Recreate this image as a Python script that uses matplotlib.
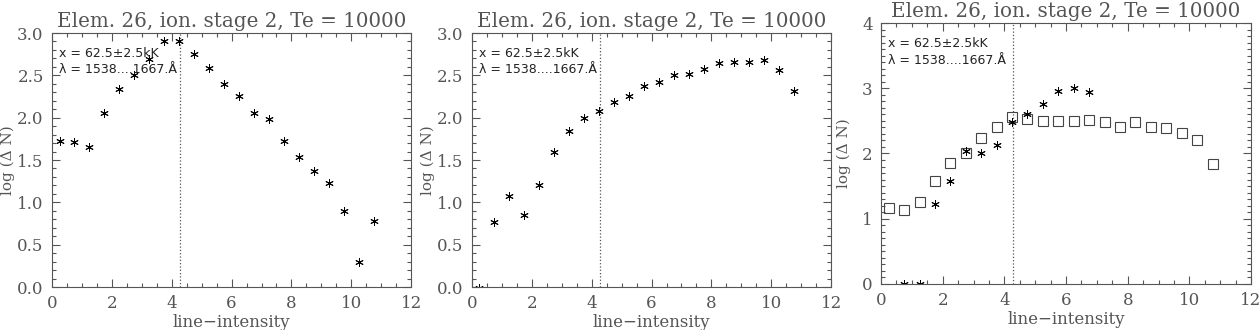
import numpy as np
import matplotlib.pyplot as plt
from matplotlib.ticker import MultipleLocator

# line-intensity bins (bin centres)
x_bins = [0.25, 0.75, 1.25, 1.75, 2.25, 2.75, 3.25, 3.75, 4.25, 4.75, 5.25,
          5.75, 6.25, 6.75, 7.25, 7.75, 8.25, 8.75, 9.25, 9.75, 10.25, 10.75]

# panel 1: log(dN), asterisks
left_vals = [1.72, 1.71, 1.65, 2.06, 2.34, 2.50, 2.69, 2.90, 2.90, 2.75, 2.59,
             2.40, 2.26, 2.05, 1.98, 1.73, 1.54, 1.37, 1.23, 0.90, 0.29, 0.78]

# panel 2: log(dN), asterisks
mid_vals = [-0.01, 0.77, 1.08, 0.85, 1.21, 1.60, 1.84, 2.00, 2.08, 2.18, 2.26,
            2.37, 2.42, 2.50, 2.52, 2.57, 2.64, 2.66, 2.66, 2.68, 2.56, 2.32]

# panel 3: squares over all bins, asterisks over the first bins only
right_sq = [1.17, 1.14, 1.25, 1.58, 1.86, 2.01, 2.24, 2.41, 2.56, 2.53, 2.50,
            2.50, 2.50, 2.52, 2.48, 2.40, 2.49, 2.40, 2.39, 2.32, 2.21, 1.84]
right_star_x = [0.75, 1.25, 1.75, 2.25, 2.75, 3.25, 3.75, 4.25, 4.75, 5.25, 5.75, 6.25, 6.75]
right_star = [0.0, 0.0, 1.23, 1.58, 2.04, 2.01, 2.13, 2.49, 2.61, 2.76, 2.96, 3.00, 2.94]

x_cut = 4.27
title = "Elem. 26, ion. stage 2, Te = 10000"
note1 = "x = 62.5\u00b12.5kK"
note2 = "\u03bb = 1538....1667.\u00c5"

grey = '#555555'
serif = ['DejaVu Serif']
star = (6, 2, 0)

fig = plt.figure(figsize=(12.6, 3.3), dpi=100)
ax1 = fig.add_axes([0.0413, 0.1303, 0.285, 0.7697])
ax2 = fig.add_axes([0.3746, 0.1303, 0.285, 0.7697])
ax3 = fig.add_axes([0.6992, 0.1394, 0.2937, 0.7909])


def style(ax, ymax, ymajor, ylab_x):
    ax.set_xlim(0, 12)
    ax.set_ylim(0, ymax)
    ax.xaxis.set_major_locator(MultipleLocator(2))
    ax.xaxis.set_minor_locator(MultipleLocator(0.5))
    ax.yaxis.set_major_locator(MultipleLocator(ymajor))
    ax.yaxis.set_minor_locator(MultipleLocator(0.1))
    ax.tick_params(which='both', direction='in', top=True, right=True,
                   color=grey, labelcolor=grey, width=0.8)
    ax.tick_params(which='major', length=6, labelsize=12, pad=6)
    ax.tick_params(which='minor', length=3)
    for lab in ax.get_xticklabels() + ax.get_yticklabels():
        lab.set_family(serif)
    for s in ax.spines.values():
        s.set_color(grey)
        s.set_linewidth(0.8)
    ax.set_xlabel('line\u2212intensity', family=serif, fontsize=12, color=grey, labelpad=1)
    ax.set_ylabel('log (\u0394 N)', family=serif, fontsize=11, color=grey)
    ax.yaxis.set_label_coords(ylab_x, 0.5)
    ax.set_title(title, family=serif, fontsize=14.3, color=grey, pad=4)
    ax.axvline(x_cut, color=grey, linestyle=':', linewidth=0.9)
    ax.text(0.02, 0.92, note1, transform=ax.transAxes, fontsize=9, color='#222222', va='center')
    ax.text(0.02, 0.855, note2, transform=ax.transAxes, fontsize=9, color='#222222', va='center')


style(ax1, 3.0, 0.5, -0.102)
ax1.yaxis.set_major_formatter(plt.FormatStrFormatter('%.1f'))
ax1.plot(x_bins, left_vals, linestyle='none', marker=star, markersize=6,
         markeredgewidth=0.7, color='black')

style(ax2, 3.0, 0.5, -0.102)
ax2.yaxis.set_major_formatter(plt.FormatStrFormatter('%.1f'))
ax2.plot(x_bins, mid_vals, linestyle='none', marker=star, markersize=6,
         markeredgewidth=0.7, color='black')

style(ax3, 4.0, 1.0, -0.08)
ax3.plot(x_bins, right_sq, linestyle='none', marker='s', markersize=7,
         markerfacecolor='none', markeredgecolor='#444444', markeredgewidth=0.8)
ax3.plot(right_star_x, right_star, linestyle='none', marker=star, markersize=6,
         markeredgewidth=0.7, color='black')

fig.savefig('out.png', dpi=100)
